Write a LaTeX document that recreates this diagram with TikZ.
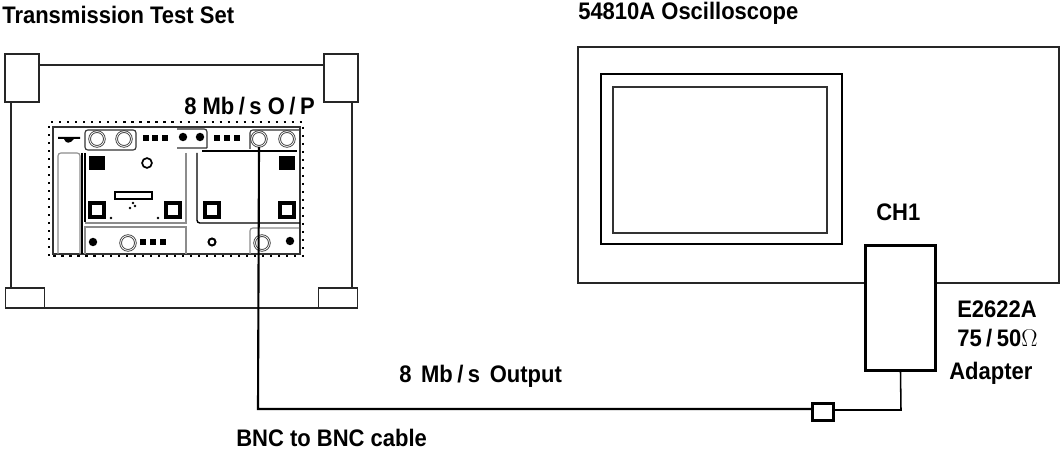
\documentclass[tikz,border=0pt]{standalone}
\usepackage{fontspec}
\setmainfont{Liberation Sans}
\newfontfamily\labelfont[FakeStretch=0.92]{Liberation Sans}
\usepackage{tikz}
\usetikzlibrary{positioning}
\newcommand{\wideslash}{\kern3.2pt/\kern3.2pt}
\tikzset{
  lbl/.style={font=\labelfont\bfseries\fontsize{17}{20}\selectfont, inner sep=0pt, anchor=west},
  frame/.style={draw=black!85, line width=1.1pt},
  foot/.style={frame, fill=white, inner sep=0pt},
  panelline/.style={draw=black!80, line width=0.8pt},
  softline/.style={draw=black!45, line width=0.8pt},
  edgedots/.style={draw=black, line width=1.5pt, dash pattern=on 1.5pt off 4.2pt},
  knob/.style={circle, draw=black!80, line width=0.6pt, minimum size=10.5pt, inner sep=0pt, double, double distance=0.6pt},
  bluntsq/.style={fill=black, minimum size=4.5pt, inner sep=0pt},
  blobdot/.style={circle, fill=black, minimum size=6pt, inner sep=0pt},
  hollowsq/.style={draw=black, line width=2.6pt, fill=white, minimum size=10pt, inner sep=0pt},
  blacksq/.style={fill=black, minimum width=12pt, minimum height=10pt, inner sep=0pt},
  box/.style={draw=black, line width=2.2pt, fill=white},
  cable/.style={draw=black, line width=1.5pt}
}
\begin{document}
\begin{tikzpicture}[x=0.025cm, y=-0.025cm]
  \useasboundingbox (0,0) rectangle (1060,452);
  % test set housing
  \draw[frame] (11,65) rectangle (352,308);
  \node[foot, minimum width=24pt, minimum height=34pt] (footTL) at (22,78) {};
  \node[foot, minimum width=24pt, minimum height=34pt] (footTR) at (341,78) {};
  \node[foot, minimum width=28pt, minimum height=14pt] (footBL) at (25,298) {};
  \node[foot, minimum width=28pt, minimum height=14pt] (footBR) at (338,298) {};
  % front panel
  \draw[edgedots] (49,256) -- (49,122) -- (303,122) -- (303,256) -- cycle;
  \draw[panelline, line width=1.1pt] (53,254) -- (53,127) -- (300,127) -- (300,254) -- cycle;
  % top row
  \fill[black] (58,137) -- (80,137) -- (80,139) -- (74,139) .. controls (70,144) and (66,144) .. (64,139) -- (58,139) -- cycle;
  \draw[panelline, rounded corners=2pt] (85,130) rectangle (136,150);
  \node[knob] (c1) at (97,139) {};
  \node[knob] (c2) at (124,139) {};
  \node[bluntsq] (s1) at (146,138) {};
  \node[bluntsq] (s2) at (155,138) {};
  \node[bluntsq] (s3) at (165,138) {};
  \draw[panelline, rounded corners=2pt] (177,129) -- (207,129) -- (207,148) (177,148) -- (207,148);
  \node[blobdot] (d1) at (183,137) {};
  \node[blobdot] (d2) at (200,137) {};
  \node[bluntsq] (s4) at (217,138) {};
  \node[bluntsq] (s5) at (227,138) {};
  \node[bluntsq] (s6) at (237,138) {};
  \draw[panelline, rounded corners=2pt] (300,130) -- (250,130) -- (250,149);
  \node[knob] (c3) at (259,139) {};
  \node[knob] (c4) at (287,139) {};
  \draw[black, line width=1.1pt] (202,151) -- (297,151);
  % left slot
  \draw[softline, rounded corners=2pt] (58,254) -- (58,153) -- (80,153) -- (80,254);
  \draw[black, line width=1pt] (82,153) -- (82,254);
  % left module
  \draw[softline] (186,153) -- (186,223) -- (85,223);
  \draw[black, line width=1pt] (85,153) -- (85,222);
  \node[blacksq] (m1) at (97,163) {};
  \node[circle, draw=black, line width=1.2pt, minimum size=7pt, inner sep=0pt] (m2) at (147,163) {};
  \draw[black, line width=1pt] (115,192) rectangle (152,199);
  \fill[black] (133,203) circle (1.3) (130,208) circle (1.3) (135,206) circle (1.3) (111,218) circle (1.3) (158,218) circle (1.3);
  \node[hollowsq] (m3) at (97,210) {};
  \node[hollowsq] (m4) at (173,210) {};
  % right module
  \draw[black, line width=1pt, rounded corners=2pt] (197,153) -- (197,223) -- (300,223);
  \node[blacksq] (m5) at (287,163) {};
  \node[hollowsq] (m6) at (212,210) {};
  \node[hollowsq] (m7) at (287,210) {};
  % bottom row
  \draw[softline] (85,254) -- (85,227) -- (186,227) -- (186,254);
  \node[blobdot] (b1) at (93,242) {};
  \node[knob] (c5) at (128,243) {};
  \node[bluntsq] (s7) at (143,242) {};
  \node[bluntsq] (s8) at (153,242) {};
  \node[bluntsq] (s9) at (163,242) {};
  \node[circle, draw=black, line width=1.4pt, minimum size=5pt, inner sep=0pt] (b2) at (212,242) {};
  \draw[softline, rounded corners=2pt] (250,254) -- (250,228) -- (299,228);
  \node[knob] (c6) at (262,243) {};
  \node[blobdot] (b3) at (290,241) {};
  % oscilloscope
  \draw[frame, line width=1pt] (578,47) rectangle (1059,283);
  \draw[box, line width=2pt] (601,74) rectangle (842,244);
  \draw[panelline, line width=1pt] (613,87) rectangle (827,233);
  \node[box, minimum width=50pt, minimum height=89pt, inner sep=0pt] (adapter) at (900.5,308) {};
  % cable
  \coordinate (bend) at (258,409);
  \coordinate (tee) at (901,410);
  \node[draw=black, line width=1.8pt, fill=white, minimum width=15pt, minimum height=12pt, inner sep=0pt] (plug) at (823,412) {};
  \draw[cable] (c3.south) -- (bend) -- (plug.west |- bend);
  \draw[black, line width=1.1pt] (plug.east |- tee) -- (tee) -- (adapter.south);
  % labels
  \node[lbl] (testset) at (2,15) {Transmission Test Set};
  \node[lbl] (scope) at (578,13) {54810A Oscilloscope};
  \node[lbl] (port8) at (184,106) {8 Mb\wideslash s O\wideslash P};
  \node[lbl] (ch1) at (876,212) {CH1};
  \node[lbl] (model) at (957,309) {E2622A};
  \node[lbl] (ratio) at (957,338) {75\wideslash 50$\Omega$};
  \node[lbl] (adapt) at (949,373) {Adapter};
  \node[lbl] (output) at (399,376) {8\kern2.5pt{} Mb\wideslash s\kern2.5pt{} Output};
  \node[lbl] (bnc) at (236,438) {BNC to BNC cable};
\end{tikzpicture}
\end{document}
